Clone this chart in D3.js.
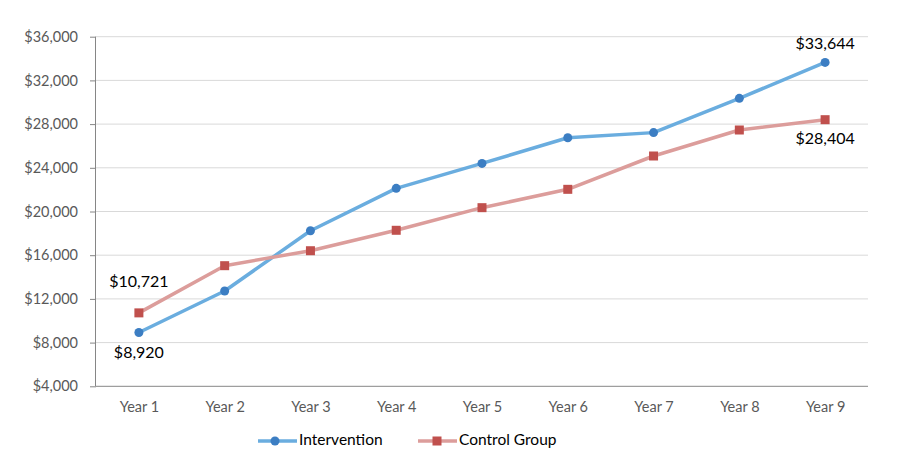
<!DOCTYPE html>
<html><head><meta charset="utf-8">
<script src="https://cdn.jsdelivr.net/npm/d3@7"></script>
<style>body{margin:0;background:#fff;} svg{display:block;}</style>
</head><body>
<svg id="c" width="900" height="475"></svg>
<script>
const categories = ["Year 1","Year 2","Year 3","Year 4","Year 5","Year 6","Year 7","Year 8","Year 9"];
const intervention = [8920, 12720, 18240, 22120, 24400, 26750, 27220, 30360, 33644];
const control = [10721, 15040, 16410, 18280, 20350, 22030, 25080, 27460, 28404];
const yTicks = [4000, 8000, 12000, 16000, 20000, 24000, 28000, 32000, 36000];
const seriesNames = ["Intervention", "Control Group"];

const svg = d3.select("#c");
const font = "Lato, 'Open Sans', sans-serif";
const L = 96, R = 868, T = 36.7, B = 386.3;
const x = d3.scalePoint().domain(categories).range([L, R]).padding(0.5);
const y = d3.scaleLinear().domain([4000, 36000]).range([B, T]);

// gridlines
svg.append("g").selectAll("line").data(yTicks.slice(1)).join("line")
  .attr("x1", L).attr("x2", R).attr("y1", d => y(d)).attr("y2", d => y(d))
  .attr("stroke", "#d9d9d9").attr("stroke-width", 1);

// y axis
const fmt = d => "$" + d3.format(",")(d);
const ya = svg.append("g").attr("transform", `translate(${L},0)`)
  .call(d3.axisLeft(y).tickValues(yTicks).tickFormat(fmt).tickSize(6).tickPadding(12));
ya.select(".domain").attr("stroke", "#868686").attr("d", `M-0.5,${T}V${B}`);
ya.selectAll(".tick line").attr("stroke", "#868686");
ya.selectAll("text").attr("fill", "#595959").style("font-family", font).style("font-size", "14.5px");

// x axis
const xa = svg.append("g").attr("transform", `translate(0,${B})`)
  .call(d3.axisBottom(x).tickSize(0).tickPadding(15));
xa.select(".domain").attr("stroke", "#868686").attr("d", `M${L},0H${R}`);
xa.selectAll("text").attr("fill", "#595959").style("font-family", font).style("font-size", "14.5px");

const series = [
  {name: seriesNames[0], vals: intervention, line: "#6aaddf", mark: "#3c7ec3", shape: "circle"},
  {name: seriesNames[1], vals: control, line: "#dc9d9b", mark: "#c0504d", shape: "square"}
];

const lineGen = d3.line().x((d, i) => x(categories[i])).y(d => y(d));
series.forEach(s => {
  svg.append("path").datum(s.vals).attr("d", lineGen)
    .attr("fill", "none").attr("stroke", s.line).attr("stroke-width", 3.5)
    .attr("stroke-linejoin", "round").attr("stroke-linecap", "round");
  const g = svg.append("g");
  if (s.shape === "circle") {
    g.selectAll("circle").data(s.vals).join("circle")
      .attr("cx", (d, i) => x(categories[i])).attr("cy", d => y(d)).attr("r", 4.5)
      .attr("fill", s.mark);
  } else {
    g.selectAll("rect").data(s.vals).join("rect")
      .attr("x", (d, i) => x(categories[i]) - 4.5).attr("y", d => y(d) - 4.5)
      .attr("width", 9).attr("height", 9).attr("fill", s.mark);
  }
});

// data labels
const labels = [
  {v: intervention[0], i: 0, dy: 21},
  {v: control[0], i: 0, dy: -30},
  {v: intervention[8], i: 8, dy: -17},
  {v: control[8], i: 8, dy: 20}
];
svg.append("g").selectAll("text").data(labels).join("text")
  .attr("x", d => x(categories[d.i])).attr("y", d => y(d.v) + d.dy)
  .attr("text-anchor", "middle").attr("dominant-baseline", "middle")
  .attr("fill", "#000").style("font-family", font).style("font-size", "16px")
  .text(d => fmt(d.v));

// legend
const lg = svg.append("g");
const items = [{s: series[0], x0: 258}, {s: series[1], x0: 418}];
items.forEach(it => {
  const cy = 441;
  lg.append("line").attr("x1", it.x0).attr("x2", it.x0 + 39).attr("y1", cy).attr("y2", cy)
    .attr("stroke", it.s.line).attr("stroke-width", 3.5);
  if (it.s.shape === "circle") {
    lg.append("circle").attr("cx", it.x0 + 17).attr("cy", cy).attr("r", 4.5).attr("fill", it.s.mark);
  } else {
    lg.append("rect").attr("x", it.x0 + 19 - 4.5).attr("y", cy - 4.5).attr("width", 9).attr("height", 9).attr("fill", it.s.mark);
  }
  lg.append("text").attr("x", it.x0 + 41).attr("y", cy).attr("dominant-baseline", "middle")
    .attr("fill", "#000").style("font-family", font).style("font-size", "15.5px").text(it.s.name);
});
</script>
</body></html>
